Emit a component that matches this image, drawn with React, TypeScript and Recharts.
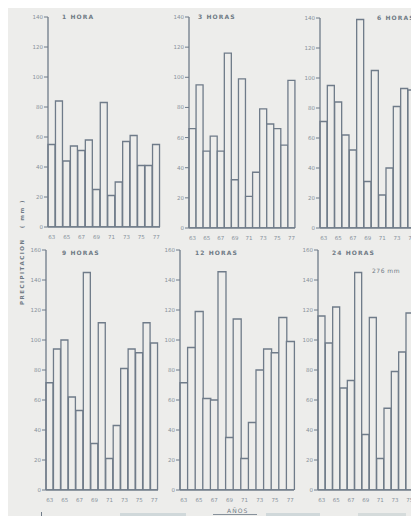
import React from 'react';
import { BarChart, Bar, XAxis, YAxis } from 'recharts';

// years 1963..1977, shown as two digits
const years = ['63', '64', '65', '66', '67', '68', '69', '70', '71', '72', '73', '74', '75', '76', '77'];

// maximum precipitation (mm) per duration
const hora1 = [55, 84, 44, 54, 51, 58, 25, 83, 21, 30, 57, 61, 41, 41, 55];
const horas3 = [66, 95, 51, 61, 51, 116, 32, 99, 21, 37, 79, 69, 66, 55, 98];
const horas6 = [71, 95, 84, 62, 52, 139, 31, 105, 22, 40, 81, 93, 92, 86, 80];
const horas9 = [71.5, 94, 100, 62, 53, 145, 31, 111.5, 21, 43, 81, 94, 91.5, 111.5, 98];
const horas12 = [71.5, 95, 119, 61, 60, 145.5, 35, 114, 21, 45, 80, 94, 91.5, 115, 99];
const horas24 = [116, 98, 122, 68, 73, 145, 37, 115, 21, 54.5, 79, 92, 118, 120, 102];

const topTicks = [0, 20, 40, 60, 80, 100, 120, 140];
const bottomTicks = [0, 20, 40, 60, 80, 100, 120, 140, 160];

const titles = ['1 HORA', '3 HORAS', '6 HORAS', '9 HORAS', '12 HORAS', '24 HORAS'];

const bg = '#ededeb';
const ink = '#6f7b89';
const faint = '#87919b';
const PAGE_W = 419;

interface PanelProps {
    values: number[];
    ticks: number[];
    axisX: number;
    top: number;
    plotW: number;
    plotH: number;
}

const Panel: React.FC<PanelProps> = ({ values, ticks, axisX, top, plotW, plotH }) => {
    const yw = 22;
    const mt = 6;
    const xh = 13;
    const left = axisX - yw;
    const data = years.map((y, i) => ({ year: y, value: values[i] }));

    // the scan is cut at the right edge, so drop year labels that fall off the page
    const yearTick = (props: any) => {
        const { x, y, payload } = props;
        if (left + x + 4 > PAGE_W) return <g />;
        return (
            <text x={x} y={y} dy="0.71em" textAnchor="middle" fontSize={5.5} fill={faint}>
                {payload.value}
            </text>
        );
    };

    return (
        <div style={{ position: 'absolute', left, top: top - mt }}>
            <BarChart
                width={yw + plotW + 2}
                height={mt + plotH + xh}
                data={data}
                margin={{ top: mt, right: 2, left: 0, bottom: 0 }}
                barCategoryGap={0}
            >
                <XAxis
                    dataKey="year"
                    interval={1}
                    height={xh}
                    tickLine={false}
                    tickMargin={2}
                    axisLine={{ stroke: ink, strokeWidth: 1.3 }}
                    tick={yearTick}
                />
                <YAxis
                    domain={[0, ticks[ticks.length - 1]]}
                    ticks={ticks}
                    interval={0}
                    allowDataOverflow
                    width={yw}
                    tickSize={4}
                    tickMargin={1}
                    tickLine={{ stroke: ink }}
                    axisLine={{ stroke: ink, strokeWidth: 1.3 }}
                    tick={{ fontSize: 5.5, fill: faint }}
                />
                <Bar dataKey="value" fill={bg} stroke={ink} strokeWidth={1.3} isAnimationActive={false} />
            </BarChart>
        </div>
    );
};

const titleStyle: React.CSSProperties = {
    position: 'absolute',
    fontSize: 6,
    fontWeight: 'bold',
    letterSpacing: 1.1,
    color: '#6f7a85',
    whiteSpace: 'nowrap',
};

const App: React.FC = () => {
    return (
        <div style={{ position: 'relative', width: PAGE_W, height: 524, margin: -8, overflow: 'hidden', background: bg, fontFamily: 'DejaVu Sans' }}>
            <Panel values={hora1} ticks={topTicks} axisX={48} top={17} plotW={112} plotH={210} />
            <Panel values={horas3} ticks={topTicks} axisX={189} top={17} plotW={106} plotH={211} />
            <Panel values={horas6} ticks={topTicks} axisX={320} top={18} plotW={110} plotH={210} />
            <Panel values={horas9} ticks={bottomTicks} axisX={46} top={250} plotW={112} plotH={240} />
            <Panel values={horas12} ticks={bottomTicks} axisX={180} top={250} plotW={114} plotH={240} />
            <Panel values={horas24} ticks={bottomTicks} axisX={318} top={250} plotW={110} plotH={240} />

            <div style={{ ...titleStyle, left: 62, top: 13 }}>{titles[0]}</div>
            <div style={{ ...titleStyle, left: 198, top: 13 }}>{titles[1]}</div>
            <div style={{ ...titleStyle, left: 377, top: 14 }}>{titles[2]}</div>
            <div style={{ ...titleStyle, left: 62, top: 249 }}>{titles[3]}</div>
            <div style={{ ...titleStyle, left: 195, top: 249 }}>{titles[4]}</div>
            <div style={{ ...titleStyle, left: 332, top: 249 }}>{titles[5]}</div>
            <div style={{ ...titleStyle, left: 372, top: 267, fontWeight: 'normal', letterSpacing: 0.5 }}>276 mm</div>

            <div style={{
                position: 'absolute', left: 22, top: 252, transform: 'translate(-50%, -50%) rotate(-90deg)',
                fontSize: 5.5, fontWeight: 'bold', letterSpacing: 1.5, color: '#6f7a85', whiteSpace: 'nowrap',
            }}>
                PRECIPITACION&nbsp;&nbsp;&nbsp;( mm )
            </div>

            <div style={{ position: 'absolute', left: 41, top: 517, width: 49, height: 0, borderTop: `1px solid ${ink}` }} />
            <div style={{ position: 'absolute', left: 41, top: 512, width: 0, height: 8, borderLeft: `1px solid ${ink}` }} />
            <div style={{ position: 'absolute', left: 120, top: 513, width: 66, height: 4, background: '#d0d8da' }} />
            <div style={{ position: 'absolute', left: 213, top: 514, width: 44, height: 0, borderTop: `1px solid ${faint}` }} />
            <div style={{ ...titleStyle, left: 225, top: 507, background: bg, padding: '0 2px', fontWeight: 'normal' }}>AÑOS</div>
            <div style={{ position: 'absolute', left: 266, top: 513, width: 54, height: 4, background: '#d0d8da' }} />
            <div style={{ position: 'absolute', left: 358, top: 513, width: 48, height: 4, background: '#d5dbdb' }} />
        </div>
    );
};

export default App;
